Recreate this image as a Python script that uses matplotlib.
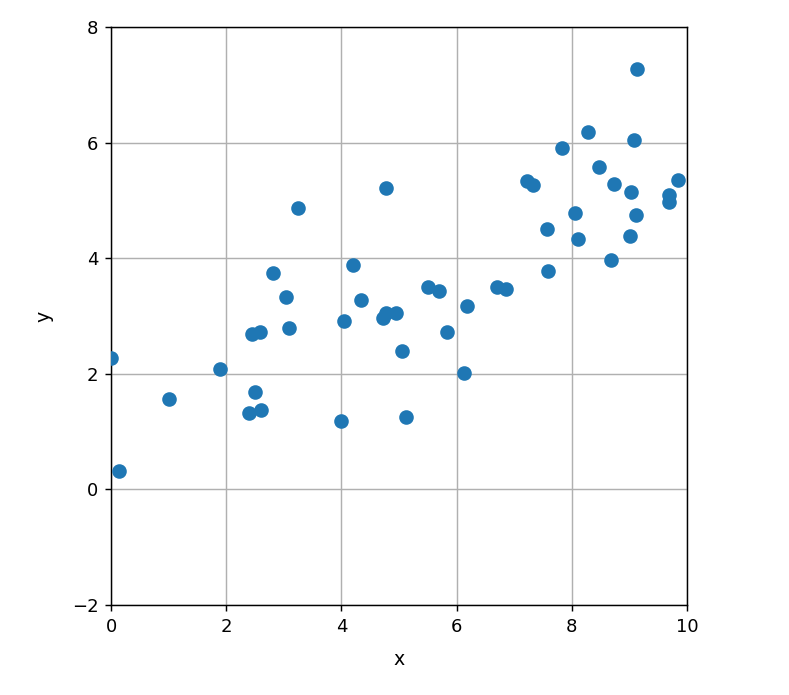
import matplotlib
matplotlib.use("Agg")
import matplotlib.pyplot as plt

x_vals = [0.00, 0.14, 1.00, 1.89, 2.40, 2.50, 2.60, 2.45, 2.59, 2.81, 3.04, 3.09, 3.25,
          3.99, 4.05, 4.20, 4.34, 4.77, 4.72, 4.77, 4.95, 5.05, 5.12, 5.50, 5.69, 5.83,
          6.13, 6.18, 6.70, 6.86, 7.22, 7.33, 7.57, 7.59, 7.83, 8.06, 8.11, 8.28, 8.47,
          8.73, 8.68, 9.01, 9.03, 9.08, 9.13, 9.11, 9.69, 9.69, 9.84]
y_vals = [2.28, 0.31, 1.57, 2.08, 1.33, 1.68, 1.37, 2.68, 2.73, 3.74, 3.32, 2.79, 4.86,
          1.19, 2.92, 3.88, 3.27, 5.21, 2.96, 3.05, 3.05, 2.39, 1.25, 3.51, 3.44, 2.72,
          2.02, 3.17, 3.51, 3.46, 5.33, 5.26, 4.50, 3.77, 5.90, 4.79, 4.34, 6.19, 5.57,
          5.29, 3.96, 4.39, 5.14, 6.04, 7.28, 4.74, 5.09, 4.97, 5.36]

DPI = 130
fig = plt.figure(figsize=(789 / DPI, 695 / DPI), dpi=DPI)
ax = fig.add_axes([0.1407, 0.1295, 0.730, 0.8317])
ax.scatter(x_vals, y_vals, s=50, color="#1f77b4", zorder=3)
ax.set_xlim(0, 10)
ax.set_ylim(-2, 8)
ax.set_xticks([0, 2, 4, 6, 8, 10])
ax.set_yticks([-2, 0, 2, 4, 6, 8])
ax.grid(True)
ax.set_xlabel("x", fontsize=10.5, labelpad=8)
ax.set_ylabel("y", fontsize=10.5, labelpad=10)
fig.savefig("out.png", dpi=DPI)
